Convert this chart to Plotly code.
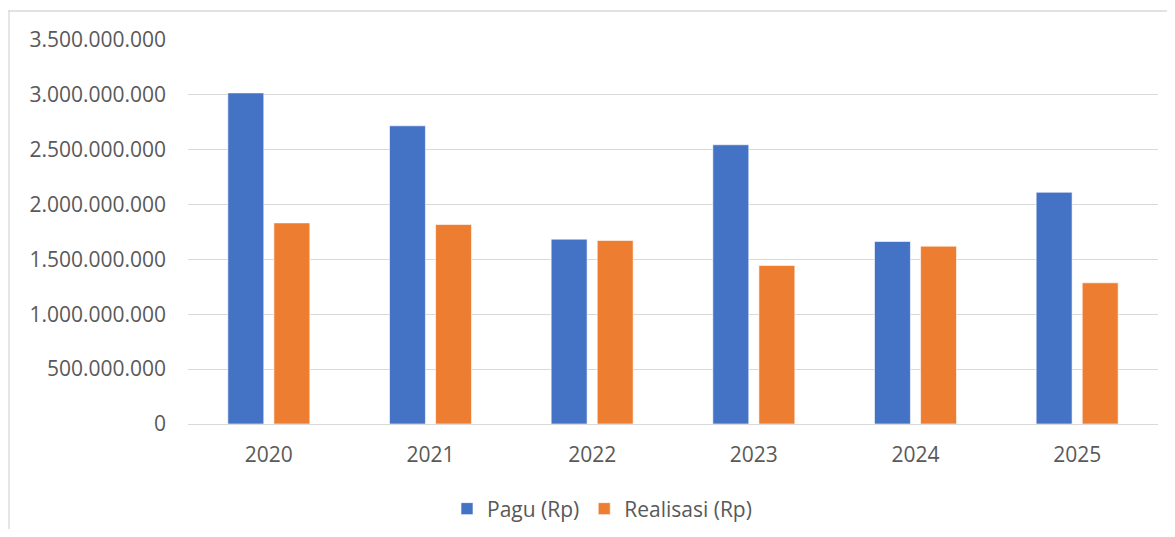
import plotly.graph_objects as go

years = ["2020", "2021", "2022", "2023", "2024", "2025"]
pagu = [3018000000, 2718000000, 1685000000, 2545000000, 1664000000, 2112000000]
realisasi = [1833000000, 1818000000, 1673000000, 1445000000, 1621000000, 1287000000]
y_ticks = [0, 500000000, 1000000000, 1500000000, 2000000000, 2500000000, 3000000000, 3500000000]

font_color = "#595959"
grid_color = "#D9D9D9"

fig = go.Figure()
fig.add_trace(go.Bar(x=years, y=pagu, name="Pagu (Rp)",
                     marker=dict(color="#4472C4", line=dict(color="#FFFFFF", width=0.6))))
fig.add_trace(go.Bar(x=years, y=realisasi, name="Realisasi (Rp)",
                     marker=dict(color="#ED7D31", line=dict(color="#FFFFFF", width=0.6))))

# page has an 8px body margin on every side, so keep the figure inside the window
off = 8
W, H = 1175 - 2 * off, 537 - 2 * off
plot_l, plot_r, plot_t, plot_b = 188 - off, 1158 - off, 40 - off, 424 - off
pw, ph = plot_r - plot_l, plot_b - plot_t

def px_x(p):
    return (p - off - plot_l) / pw

def px_y(p):
    return (plot_b - (p - off)) / ph

fig.update_layout(
    width=W, height=H,
    margin=dict(l=plot_l, r=W - plot_r, t=plot_t, b=H - plot_b, autoexpand=False),
    paper_bgcolor="white", plot_bgcolor="white",
    separators=",.",
    font=dict(family="Open Sans, Liberation Sans, sans-serif", size=21, color=font_color),
    barmode="group", bargap=0.43, bargroupgap=0.22,
    showlegend=True,
    legend=dict(orientation="h", x=px_x(602), xanchor="center", y=px_y(509), yanchor="middle",
                font=dict(size=21, color=font_color), itemwidth=30, traceorder="normal"),
    xaxis=dict(showgrid=False, showline=True, linecolor=grid_color, linewidth=1.3,
               ticks="", ticklabelstandoff=12, automargin=False,
               tickfont=dict(size=21, color=font_color)),
    yaxis=dict(range=[0, 3500000000], tickvals=y_ticks, tickformat=",d",
               showgrid=True, gridcolor=grid_color, gridwidth=1.3, zeroline=False,
               showline=False, ticks="", ticklabelstandoff=21, automargin=False,
               tickfont=dict(size=21, color=font_color)),
    shapes=[
        dict(type="line", xref="paper", yref="paper", x0=px_x(8), x1=px_x(1175),
             y0=px_y(11), y1=px_y(11), line=dict(color=grid_color, width=1.3)),
        dict(type="line", xref="paper", yref="paper", x0=px_x(9), x1=px_x(9),
             y0=px_y(11), y1=px_y(537), line=dict(color=grid_color, width=1.3)),
    ],
)

fig.write_html("out.html")
